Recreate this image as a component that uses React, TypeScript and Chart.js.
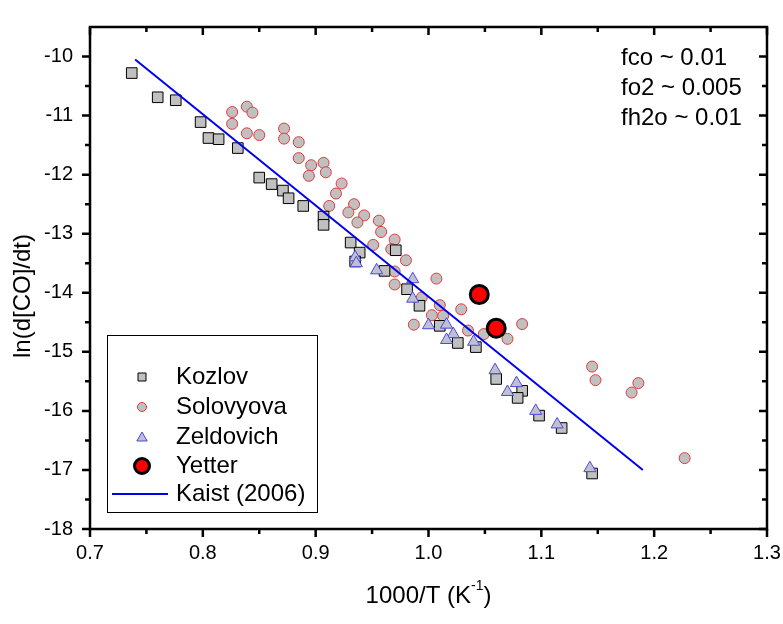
import React, { useEffect, useRef } from 'react';
import { Chart, registerables } from 'chart.js';

Chart.register(...registerables);

const kozlov: [number, number][] = [
  [0.737, -10.28], [0.760, -10.69], [0.776, -10.74], [0.798, -11.11], [0.805, -11.38],
  [0.814, -11.40], [0.831, -11.55], [0.850, -12.05], [0.861, -12.16], [0.871, -12.27],
  [0.876, -12.40], [0.889, -12.53], [0.907, -12.71], [0.907, -12.85], [0.931, -13.15],
  [0.939, -13.32], [0.935, -13.47], [0.961, -13.63], [0.971, -13.28], [0.981, -13.94],
  [0.992, -14.22], [1.010, -14.56], [1.026, -14.85], [1.042, -14.92], [1.060, -15.46],
  [1.083, -15.66], [1.079, -15.78], [1.098, -16.08], [1.118, -16.29], [1.145, -17.06],
];

const solovyova: [number, number][] = [
  [0.826, -10.94], [0.826, -11.14], [0.839, -10.85], [0.844, -10.95], [0.839, -11.30],
  [0.850, -11.33], [0.872, -11.22], [0.872, -11.39], [0.885, -11.45], [0.885, -11.72],
  [0.896, -11.84], [0.894, -12.02], [0.907, -11.80], [0.909, -11.96], [0.923, -12.15],
  [0.918, -12.32], [0.912, -12.53], [0.934, -12.50], [0.929, -12.64], [0.943, -12.69],
  [0.937, -12.81], [0.956, -12.78], [0.958, -12.97], [0.970, -13.10], [0.951, -13.19],
  [0.967, -13.26], [0.980, -13.45], [0.970, -13.64], [0.970, -13.86], [1.007, -13.76],
  [0.994, -14.08], [1.010, -14.21], [1.029, -14.28], [1.003, -14.38], [1.013, -14.39],
  [0.987, -14.54], [1.035, -14.64], [1.049, -14.70], [1.070, -14.78], [1.083, -14.53],
  [1.145, -15.25], [1.148, -15.48], [1.186, -15.53], [1.180, -15.69], [1.227, -16.80],
];

const zeldovich: [number, number][] = [
  [0.935, -13.40], [0.936, -13.50], [0.954, -13.62], [0.986, -13.77], [0.986, -14.10],
  [1.000, -14.55], [1.016, -14.54], [1.022, -14.70], [1.016, -14.80], [1.040, -14.83],
  [1.059, -15.31], [1.078, -15.53], [1.070, -15.68], [1.095, -16.00], [1.114, -16.23],
  [1.143, -16.97],
];

const yetter: [number, number][] = [
  [1.045, -14.03], [1.060, -14.60],
];

const kaist: [number, number][] = [
  [0.740, -10.05], [1.190, -17.00],
];

const xTicks = [0.7, 0.8, 0.9, 1.0, 1.1, 1.2, 1.3];
const xMinor = [0.75, 0.85, 0.95, 1.05, 1.15, 1.25];
const yTicks = [-18, -17, -16, -15, -14, -13, -12, -11, -10];
const yMinor = [-17.5, -16.5, -15.5, -14.5, -13.5, -12.5, -11.5, -10.5];

const seriesNames = ['Kozlov', 'Solovyova', 'Zeldovich', 'Yetter', 'Kaist (2006)'];
const notes = ['fco ~ 0.01', 'fo2 ~ 0.005', 'fh2o ~ 0.01'];
const xTitle = '1000/T (K';
const xTitleSup = '-1';
const xTitleEnd = ')';
const yTitle = 'ln(d[CO]/dt)';

const FONT = '"Liberation Sans", Arial, sans-serif';
const GRAY = '#c0c0c0';
const RED_EDGE = '#e5383b';
const BLUE_EDGE = '#4a4ae0';
const TRI_FILL = '#c0c0d0';
const LINE_BLUE = '#0000ee';

const toPts = (a: [number, number][]) => a.map(([x, y]) => ({ x, y }));

function drawSquare(ctx: CanvasRenderingContext2D, x: number, y: number, s: number) {
  ctx.beginPath();
  ctx.rect(x - s / 2, y - s / 2, s, s);
  ctx.fillStyle = GRAY;
  ctx.fill();
  ctx.lineWidth = 1;
  ctx.strokeStyle = '#000';
  ctx.stroke();
}
function drawCircle(ctx: CanvasRenderingContext2D, x: number, y: number, r: number, fill: string, edge: string, lw: number) {
  ctx.beginPath();
  ctx.arc(x, y, r, 0, Math.PI * 2);
  ctx.fillStyle = fill;
  ctx.fill();
  ctx.lineWidth = lw;
  ctx.strokeStyle = edge;
  ctx.stroke();
}
function drawTri(ctx: CanvasRenderingContext2D, x: number, y: number, r: number) {
  ctx.beginPath();
  ctx.moveTo(x, y - r);
  ctx.lineTo(x + r * 0.866, y + r * 0.5);
  ctx.lineTo(x - r * 0.866, y + r * 0.5);
  ctx.closePath();
  ctx.fillStyle = TRI_FILL;
  ctx.fill();
  ctx.lineWidth = 1;
  ctx.strokeStyle = BLUE_EDGE;
  ctx.stroke();
}

const decorPlugin = {
  id: 'decor',
  afterDraw(chart: any) {
    const ctx: CanvasRenderingContext2D = chart.ctx;
    const { left, right, top, bottom } = chart.chartArea;
    const xs = chart.scales.x;
    const ys = chart.scales.y;
    ctx.save();
    ctx.strokeStyle = '#000';
    ctx.lineWidth = 2.5;
    ctx.strokeRect(left, top, right - left, bottom - top);
    const MAJ = 8, MIN = 5;
    ctx.lineWidth = 2.5;
    ctx.beginPath();
    xTicks.forEach(v => {
      const p = xs.getPixelForValue(v);
      ctx.moveTo(p, bottom); ctx.lineTo(p, bottom + MAJ);
      ctx.moveTo(p, top); ctx.lineTo(p, top + MAJ);
    });
    xMinor.forEach(v => {
      const p = xs.getPixelForValue(v);
      ctx.moveTo(p, bottom); ctx.lineTo(p, bottom + MIN);
      ctx.moveTo(p, top); ctx.lineTo(p, top + MIN);
    });
    yTicks.forEach(v => {
      const p = ys.getPixelForValue(v);
      ctx.moveTo(left, p); ctx.lineTo(left - MAJ, p);
      ctx.moveTo(right, p); ctx.lineTo(right - MAJ, p);
    });
    yMinor.forEach(v => {
      const p = ys.getPixelForValue(v);
      ctx.moveTo(left, p); ctx.lineTo(left - MIN, p);
      ctx.moveTo(right, p); ctx.lineTo(right - MIN, p);
    });
    ctx.stroke();

    ctx.fillStyle = '#000';
    ctx.textBaseline = 'middle';
    ctx.font = `24px ${FONT}`;
    const w1 = ctx.measureText(xTitle).width;
    ctx.font = `14px ${FONT}`;
    const w2 = ctx.measureText(xTitleSup).width;
    ctx.font = `24px ${FONT}`;
    const w3 = ctx.measureText(xTitleEnd).width;
    const total = w1 + w2 + w3;
    const tx = (left + right) / 2 - total / 2;
    const ty = 596;
    ctx.textAlign = 'left';
    ctx.fillText(xTitle, tx, ty);
    ctx.font = `14px ${FONT}`;
    ctx.fillText(xTitleSup, tx + w1, ty - 10);
    ctx.font = `24px ${FONT}`;
    ctx.fillText(xTitleEnd, tx + w1 + w2, ty);

    ctx.save();
    ctx.translate(23, 296);
    ctx.rotate(-Math.PI / 2);
    ctx.textAlign = 'center';
    ctx.fillText(yTitle, 0, 0);
    ctx.restore();

    ctx.textAlign = 'left';
    ctx.font = `24px ${FONT}`;
    notes.forEach((t, i) => ctx.fillText(t, 621, 58 + i * 30));

    const lx = 107, ly = 335, lw = 210, lh = 177;
    ctx.fillStyle = '#fff';
    ctx.fillRect(lx, ly, lw, lh);
    ctx.lineWidth = 1;
    ctx.strokeStyle = '#000';
    ctx.strokeRect(lx + 0.5, ly + 0.5, lw, lh);
    const rows = [377, 407, 437, 466, 494];
    const sx = 142;
    drawSquare(ctx, sx, rows[0], 8);
    drawCircle(ctx, sx, rows[1], 4.5, GRAY, RED_EDGE, 1);
    drawTri(ctx, sx, rows[2] + 1, 6);
    drawCircle(ctx, sx, rows[3], 7.5, '#ff0000', '#000', 3);
    ctx.beginPath();
    ctx.moveTo(112, rows[4]);
    ctx.lineTo(168, rows[4]);
    ctx.lineWidth = 2;
    ctx.strokeStyle = LINE_BLUE;
    ctx.stroke();
    ctx.fillStyle = '#000';
    ctx.font = `24px ${FONT}`;
    seriesNames.forEach((n, i) => ctx.fillText(n, 176, rows[i]));
    ctx.restore();
  },
};

export default function App() {
  const ref = useRef<HTMLCanvasElement | null>(null);
  useEffect(() => {
    if (!ref.current) return;
    const chart = new Chart(ref.current, {
      type: 'scatter',
      data: {
        datasets: [
          {
            label: seriesNames[3], data: toPts(yetter), order: 0,
            pointStyle: 'circle', pointRadius: 9, pointBackgroundColor: '#ff0000',
            pointBorderColor: '#000', pointBorderWidth: 3,
          },
          {
            type: 'line', label: seriesNames[4], data: toPts(kaist), order: 1,
            borderColor: LINE_BLUE, borderWidth: 2, pointRadius: 0, showLine: true, fill: false,
          } as any,
          {
            label: seriesNames[2], data: toPts(zeldovich), order: 2,
            pointStyle: 'triangle', pointRadius: 7, pointBackgroundColor: TRI_FILL,
            pointBorderColor: BLUE_EDGE, pointBorderWidth: 1,
          },
          {
            label: seriesNames[0], data: toPts(kozlov), order: 3,
            pointStyle: 'rect', pointRadius: 7.5, pointBackgroundColor: GRAY,
            pointBorderColor: '#000', pointBorderWidth: 1,
          },
          {
            label: seriesNames[1], data: toPts(solovyova), order: 4,
            pointStyle: 'circle', pointRadius: 5.5, pointBackgroundColor: GRAY,
            pointBorderColor: RED_EDGE, pointBorderWidth: 1,
          },
        ],
      },
      options: {
        responsive: false,
        animation: false,
        devicePixelRatio: 1,
        layout: { padding: { left: 0, top: 27, right: 16, bottom: 0 } },
        plugins: { legend: { display: false }, tooltip: { enabled: false } },
        scales: {
          x: {
            type: 'linear', min: 0.7, max: 1.3,
            grid: { display: false, drawTicks: false },
            border: { display: false },
            afterBuildTicks: (s: any) => { s.ticks = xTicks.map(v => ({ value: v })); },
            afterFit: (s: any) => { s.height = 95; s.paddingLeft = 0; s.paddingRight = 0; },
            ticks: {
              padding: 12, color: '#000', maxRotation: 0, autoSkip: false,
              font: { family: FONT, size: 20 },
              callback: (v: any) => Number(v).toFixed(1),
            },
          },
          y: {
            type: 'linear', min: -18, max: -9.5,
            grid: { display: false, drawTicks: false },
            border: { display: false },
            afterBuildTicks: (s: any) => { s.ticks = yTicks.map(v => ({ value: v })); },
            afterFit: (s: any) => { s.width = 90; s.paddingTop = 0; s.paddingBottom = 0; },
            ticks: {
              padding: 17, color: '#000', autoSkip: false,
              font: { family: FONT, size: 20 },
              callback: (v: any) => String(v),
            },
          },
        },
      },
      plugins: [decorPlugin],
    });
    return () => chart.destroy();
  }, []);
  return (
    <div style={{ position: 'fixed', left: 0, top: 0, width: 783, height: 624, background: '#fff' }}>
      <canvas ref={ref} width={783} height={624} style={{ display: 'block' }} />
    </div>
  );
}
